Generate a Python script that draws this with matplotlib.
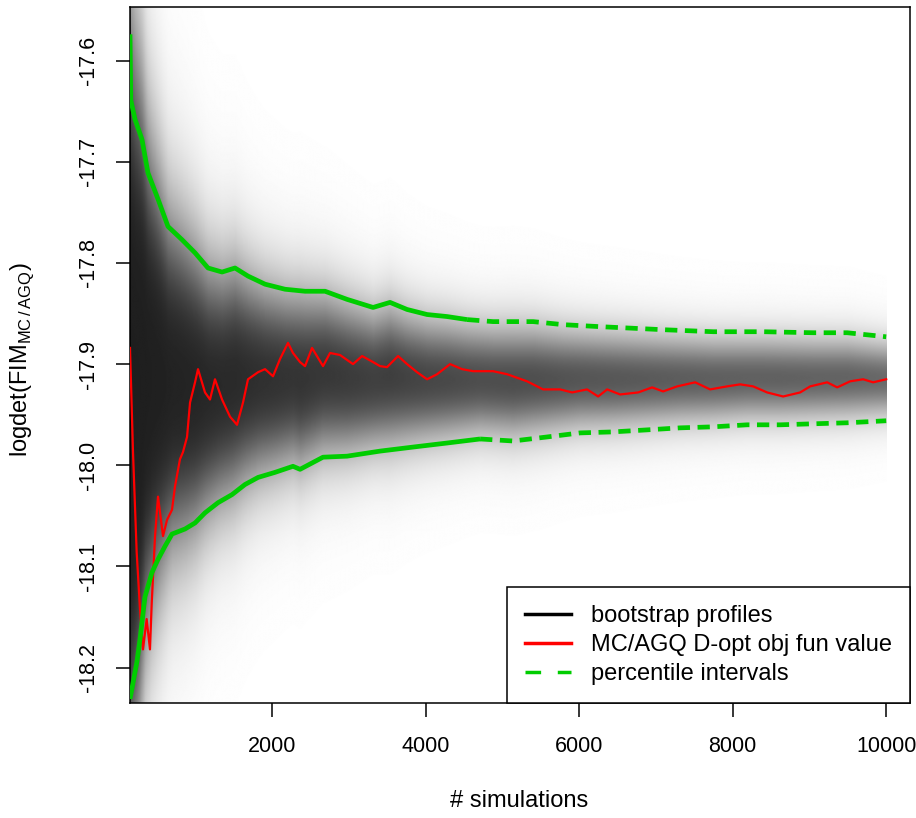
import numpy as np
import matplotlib
matplotlib.use('Agg')
import matplotlib.pyplot as plt
from matplotlib.lines import Line2D

plt.rcParams['font.family'] = ['Liberation Sans', 'DejaVu Sans']
plt.rcParams['mathtext.fontset'] = 'custom'
plt.rcParams['mathtext.rm'] = 'Liberation Sans'
plt.rcParams['axes.unicode_minus'] = False

# MC/AGQ D-optimality objective value vs number of simulations
sim_red = [150, 189, 237, 280, 319, 367, 410, 433, 476, 515, 580, 632, 697, 736,
           801, 840, 893, 932, 997, 1036, 1127, 1192, 1257, 1349, 1453, 1544,
           1622, 1687, 1818, 1909, 2013, 2104, 2208, 2273, 2365, 2430, 2521,
           2664, 2756, 2886, 3055, 3173, 3316, 3407, 3498, 3642, 3759, 3889,
           4020, 4150, 4319, 4476, 4619, 4879, 5062, 5322, 5531, 5752, 5909,
           6104, 6248, 6365, 6534, 6769, 6951, 7094, 7277, 7511, 7707, 7928,
           8098, 8267, 8449, 8658, 8879, 9010, 9231, 9362, 9531, 9700, 9830,
           10000]
obj_red = [-17.884, -17.987, -18.086, -18.142, -18.182, -18.152, -18.182,
           -18.136, -18.070, -18.031, -18.070, -18.054, -18.044, -18.021,
           -17.994, -17.987, -17.972, -17.938, -17.918, -17.905, -17.928,
           -17.935, -17.915, -17.935, -17.952, -17.960, -17.938, -17.915,
           -17.908, -17.905, -17.912, -17.895, -17.879, -17.889, -17.898,
           -17.902, -17.884, -17.902, -17.889, -17.891, -17.900, -17.892,
           -17.898, -17.902, -17.903, -17.892, -17.900, -17.908, -17.915,
           -17.910, -17.900, -17.905, -17.907, -17.907, -17.910, -17.917,
           -17.925, -17.925, -17.928, -17.925, -17.932, -17.925, -17.930,
           -17.928, -17.923, -17.927, -17.922, -17.918, -17.925, -17.922,
           -17.920, -17.922, -17.928, -17.932, -17.928, -17.922, -17.918,
           -17.923, -17.917, -17.915, -17.918, -17.915]

# upper percentile of the bootstrap profiles
sim_up = [150, 160, 215, 306, 384, 515, 645, 827, 997, 1166, 1349, 1518, 1687,
          1909, 2169, 2430, 2691, 2977, 3316, 3537, 3759, 4020, 4280, 4541,
          4879, 5401, 5791, 6274, 7094, 7746, 8397, 9049, 9492, 10000]
pct_up = [-17.574, -17.639, -17.658, -17.678, -17.711, -17.737, -17.764,
          -17.777, -17.790, -17.805, -17.809, -17.805, -17.813, -17.821,
          -17.826, -17.828, -17.828, -17.836, -17.844, -17.839, -17.846,
          -17.851, -17.853, -17.856, -17.858, -17.858, -17.861, -17.863,
          -17.866, -17.868, -17.868, -17.869, -17.869, -17.873]

# lower percentile of the bootstrap profiles
sim_lo = [150, 241, 280, 345, 436, 515, 606, 697, 866, 997, 1127, 1296, 1479,
          1648, 1818, 2039, 2273, 2365, 2664, 2977, 3407, 3837, 4280, 4710,
          5140, 5583, 6013, 6443, 6886, 7316, 7746, 8189, 8619, 9049, 9492,
          10000]
pct_lo = [-18.231, -18.194, -18.172, -18.130, -18.106, -18.093, -18.080,
          -18.068, -18.063, -18.057, -18.047, -18.037, -18.029, -18.019,
          -18.012, -18.007, -18.001, -18.004, -17.992, -17.991, -17.986,
          -17.982, -17.978, -17.974, -17.976, -17.972, -17.968, -17.967,
          -17.965, -17.963, -17.962, -17.960, -17.960, -17.959, -17.958,
          -17.956]

y_ticks = [-17.6, -17.7, -17.8, -17.9, -18.0, -18.1, -18.2]
x_ticks = [2000, 4000, 6000, 8000, 10000]

fig = plt.figure(figsize=(9.16, 8.18), dpi=100)
ax = fig.add_axes([130 / 916, 1 - 703 / 818, 780 / 916, 696 / 818])
ylim = (-18.235, -17.547)
xlim = (150, 10310)

# density of the bootstrap profiles, shaded between the percentile curves
gx = np.linspace(150, 10000, 900)
gy = np.linspace(ylim[0], ylim[1], 700)
up = np.interp(gx, sim_up, pct_up)
lo = np.interp(gx, sim_lo, pct_lo)
mid = (up + lo) / 2
su = (up - mid) / 1.96
sl = (mid - lo) / 1.96
Y = gy[:, None]
z = np.where(Y > mid, (Y - mid) / su, (mid - Y) / sl)
prof = (1 + z ** 2 / 6) ** -3.5
width = up - lo
A = 1.1 * (width / width[-1])
dens = 1 - np.exp(-A * prof)
shade = 1 - 0.88 * dens
ax.imshow(shade, cmap='gray', vmin=0, vmax=1, origin='lower', aspect='auto',
          extent=[150, 10000, ylim[0], ylim[1]], interpolation='bilinear',
          zorder=1)

ax.plot(sim_red, obj_red, color='red', lw=1.6, zorder=3)

green = '#00CD00'
cut = 4500
for xs, ys in [(sim_up, pct_up), (sim_lo, pct_lo)]:
    xs = np.array(xs)
    ys = np.array(ys)
    k = np.searchsorted(xs, cut)
    ax.plot(xs[:k + 1], ys[:k + 1], color=green, lw=3.4, zorder=4,
            solid_capstyle='butt')
    ax.plot(xs[k:], ys[k:], color=green, lw=3.4, zorder=4,
            linestyle=(0, (2.6, 1.6)), dash_capstyle='butt')

ax.set_xlim(*xlim)
ax.set_ylim(*ylim)
ax.set_xticks(x_ticks)
ax.set_xticklabels([str(t) for t in x_ticks])
ax.set_yticks(y_ticks)
ax.set_yticklabels(['%.1f' % t for t in y_ticks], rotation=90, va='center')
ax.tick_params(axis='both', direction='out', length=10, width=1.1,
               labelsize=15.5, colors='black')
ax.tick_params(axis='x', pad=14)
ax.tick_params(axis='y', pad=12)
for s in ax.spines.values():
    s.set_linewidth(1.1)
    s.set_color('black')

fig.text(519 / 916, 1 - 801 / 818, '# simulations', ha='center', va='center',
         fontsize=17)
fig.text(22 / 916, 1 - 360 / 818,
         r'logdet(FIM$_{\mathregular{MC\,/\,AGQ}}$)',
         rotation=90, ha='center', va='center', fontsize=17)

handles = [Line2D([], [], color='black', lw=2.5),
           Line2D([], [], color='red', lw=2.5),
           Line2D([], [], color=green, lw=2.5, linestyle=(0, (4.5, 4.8)))]
labels = ['bootstrap profiles', 'MC/AGQ D-opt obj fun value',
          'percentile intervals']
leg = ax.legend(handles, labels, loc='lower right', bbox_to_anchor=(1, 0),
                borderaxespad=0, fontsize=17, frameon=True, fancybox=False,
                framealpha=1, edgecolor='black', handlelength=1.95,
                handletextpad=0.85, labelspacing=0.3, borderpad=0.75)
leg.get_frame().set_linewidth(1.1)
leg.set_zorder(5)

plt.savefig('out.png', dpi=100)
